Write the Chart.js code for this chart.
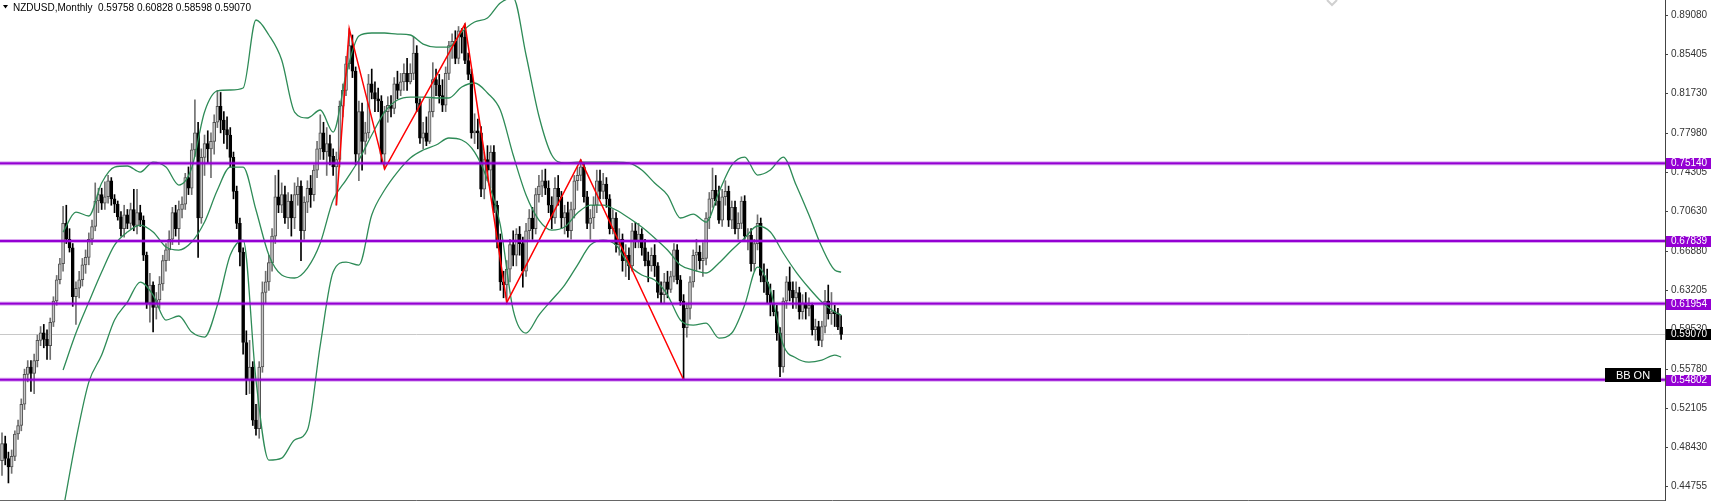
<!DOCTYPE html>
<html>
<head>
<meta charset="utf-8">
<title>NZDUSD Monthly</title>
<script src="https://cdn.jsdelivr.net/npm/chart.js@4.4.1/dist/chart.umd.min.js"></script>
<style>
  html, body { margin: 0; padding: 0; background: #fff; }
  canvas { display: block; }
</style>
</head>
<body>
<canvas id="chart" width="1716" height="502"></canvas>
<script>
// Monthly NZDUSD candles, one entry per month, oldest first
const symbol = 'NZDUSD,Monthly';

const openPrices = [
  .472,.488,.474,.466,.476,.497,.505,.525,.553,.560,
  .554,.566,.585,.592,.586,.580,.602,.622,.642,.657,
  .695,.680,.672,.626,.634,.642,.656,.663,.680,.692,
  .716,.722,.714,.720,.735,.718,.713,.701,.690,.703,
  .695,.708,.693,.705,.698,.665,.620,.637,.616,.623,
  .638,.660,.670,.680,.705,.690,.708,.713,.738,.728,
  .764,.780,.700,.757,.770,.765,.772,.790,.805,.792,
  .783,.778,.757,.725,.695,.668,.583,.548,.560,.510,
  .502,.560,.630,.640,.658,.683,.720,.712,.722,.700,
  .716,.700,.722,.730,.688,.715,.728,.722,.745,.765,
  .780,.762,.770,.758,.748,.755,.805,.820,.845,.862,
  .838,.760,.800,.772,.780,.826,.818,.812,.810,.760,
  .800,.806,.803,.826,.820,.828,.836,.828,.836,.855,
  .808,.775,.780,.772,.800,.830,.825,.815,.806,.836,
  .862,.866,.850,.876,.870,.848,.835,.780,.782,.780,
  .727,.755,.745,.762,.712,.678,.640,.637,.652,.675,
  .665,.685,.676,.650,.688,.700,.690,.722,.730,.735,
  .728,.712,.700,.728,.720,.700,.705,.688,.708,.735,
  .740,.748,.720,.695,.700,.712,.735,.725,.732,.718,
  .690,.700,.675,.680,.660,.665,.655,.688,.678,.685,
  .672,.660,.655,.665,.655,.630,.628,.640,.633,.645,
  .670,.642,.622,.597,.615,.640,.665,.668,.660,.662,
  .700,.718,.726,.716,.698,.720,.725,.698,.710,.690,
  .695,.716,.683,.684,.657,.676,.695,.646,.640,.628,
  .620,.612,.592,.560,.622,.640,.632,.625,.630,.612,
  .620,.615,.618,.595,.598,.585,.598,.622,.610,.612,
  .610,.59758
];
const highPrices = [
  .498,.495,.480,.482,.500,.510,.530,.558,.566,.566,
  .572,.590,.598,.600,.595,.606,.626,.646,.662,.711,
  .712,.690,.676,.640,.650,.662,.670,.686,.698,.733,
  .728,.728,.734,.740,.738,.722,.716,.706,.712,.708,
  .714,.727,.727,.712,.702,.668,.648,.640,.630,.645,
  .665,.676,.688,.710,.712,.716,.720,.742,.748,.770,
  .811,.790,.765,.778,.782,.780,.797,.820,.818,.800,
  .795,.785,.762,.730,.700,.672,.594,.585,.565,.525,
  .565,.640,.650,.665,.690,.740,.745,.733,.730,.724,
  .722,.733,.738,.735,.720,.735,.740,.750,.772,.797,
  .790,.785,.778,.765,.762,.810,.826,.852,.878,.872,
  .842,.810,.808,.790,.835,.840,.828,.822,.815,.805,
  .814,.815,.832,.838,.836,.845,.850,.845,.870,.862,
  .812,.790,.795,.812,.846,.840,.835,.830,.842,.866,
  .873,.876,.880,.878,.8825,.855,.840,.798,.793,.786,
  .762,.768,.768,.768,.716,.685,.650,.660,.680,.688,
  .690,.692,.682,.695,.708,.710,.728,.740,.745,.746,
  .735,.720,.738,.740,.725,.712,.715,.715,.740,.748,
  .755,.752,.725,.708,.720,.745,.745,.742,.738,.722,
  .708,.705,.690,.685,.675,.672,.695,.696,.695,.690,
  .680,.668,.672,.675,.658,.640,.648,.650,.650,.676,
  .675,.646,.628,.620,.645,.670,.680,.674,.677,.705,
  .724,.747,.740,.730,.727,.735,.730,.716,.716,.705,
  .720,.721,.690,.690,.680,.703,.700,.657,.652,.638,
  .632,.618,.597,.625,.645,.654,.640,.640,.635,.628,
  .630,.625,.620,.605,.603,.603,.632,.637,.630,.618,
  .615,.60828
];
const lowPrices = [
  .458,.468,.451,.460,.472,.492,.500,.520,.546,.537,
  .535,.560,.580,.578,.567,.567,.598,.618,.638,.650,
  .676,.668,.617,.600,.625,.636,.648,.656,.675,.688,
  .705,.708,.708,.714,.712,.705,.698,.683,.682,.690,
  .690,.688,.685,.692,.660,.615,.602,.593,.605,.615,
  .632,.650,.660,.675,.683,.675,.700,.708,.722,.722,
  .758,.663,.695,.740,.752,.738,.760,.785,.780,.770,
  .765,.748,.718,.690,.655,.572,.534,.535,.505,.496,
  .493,.555,.620,.632,.650,.676,.705,.705,.695,.690,
  .683,.690,.712,.660,.680,.705,.710,.716,.738,.755,
  .755,.740,.750,.740,.712,.748,.795,.815,.840,.832,
  .750,.735,.745,.760,.775,.812,.800,.800,.752,.746,
  .790,.795,.798,.812,.815,.820,.820,.826,.830,.800,
  .770,.765,.768,.770,.795,.815,.808,.800,.800,.830,
  .850,.845,.845,.855,.845,.830,.775,.770,.765,.720,
  .718,.735,.728,.705,.672,.632,.625,.620,.640,.655,
  .655,.665,.635,.645,.680,.680,.685,.715,.720,.722,
  .705,.690,.695,.712,.690,.685,.682,.680,.700,.726,
  .735,.715,.690,.680,.690,.705,.718,.718,.710,.685,
  .685,.668,.665,.650,.645,.642,.650,.672,.672,.665,
  .655,.640,.650,.645,.625,.620,.620,.625,.630,.640,
  .638,.618,.548,.588,.605,.635,.650,.652,.645,.656,
  .690,.710,.712,.695,.692,.712,.692,.690,.685,.680,
  .690,.680,.670,.650,.650,.670,.640,.630,.620,.608,
  .608,.585,.551,.555,.615,.622,.615,.615,.605,.605,
  .605,.608,.590,.585,.580,.579,.592,.605,.600,.598,
  .595,.58598
];
const closePrices = [
  .488,.474,.466,.476,.497,.505,.525,.553,.560,.554,
  .566,.585,.592,.586,.580,.602,.622,.642,.657,.695,
  .680,.672,.626,.634,.642,.656,.663,.680,.692,.716,
  .722,.714,.720,.735,.718,.713,.701,.690,.703,.695,
  .708,.693,.705,.698,.665,.620,.637,.616,.623,.638,
  .660,.670,.680,.705,.690,.708,.713,.738,.728,.764,
  .780,.700,.757,.770,.765,.772,.790,.805,.792,.783,
  .778,.757,.725,.695,.668,.583,.548,.560,.510,.502,
  .560,.630,.640,.658,.683,.720,.712,.722,.700,.716,
  .700,.722,.730,.688,.715,.728,.722,.745,.765,.780,
  .762,.770,.758,.748,.755,.805,.820,.845,.862,.838,
  .760,.800,.772,.780,.826,.818,.812,.810,.760,.800,
  .806,.803,.826,.820,.828,.836,.828,.836,.855,.808,
  .775,.780,.772,.800,.830,.825,.815,.806,.836,.862,
  .866,.850,.876,.870,.848,.835,.780,.782,.780,.727,
  .755,.745,.762,.712,.678,.640,.637,.652,.675,.665,
  .685,.676,.650,.688,.700,.690,.722,.730,.735,.728,
  .712,.700,.728,.720,.700,.705,.688,.708,.735,.740,
  .748,.720,.695,.700,.712,.735,.725,.732,.718,.690,
  .700,.675,.680,.660,.665,.655,.688,.678,.685,.672,
  .660,.655,.665,.655,.630,.628,.640,.633,.645,.670,
  .642,.622,.597,.615,.640,.665,.668,.660,.662,.700,
  .718,.726,.716,.698,.720,.725,.698,.710,.690,.695,
  .716,.683,.684,.657,.676,.695,.646,.640,.628,.620,
  .612,.592,.560,.622,.640,.632,.625,.630,.612,.620,
  .615,.618,.595,.598,.585,.598,.622,.610,.612,.610,
  .5976,.59070
];

// Bollinger bands (20, 2) at these bar numbers
const bbAt = [
  19, 23, 27, 31, 35, 39, 43, 47, 51, 55, 59, 63, 67, 71, 75, 79, 83, 87, 91, 95,
  99, 103, 107, 111, 115, 119, 123, 127, 131, 135, 139, 143, 147, 151, 155, 159,
  163, 167, 171, 175, 179, 183, 187, 191, 195, 199, 203, 207, 211, 215, 219, 223,
  227, 231, 235, 239, 243, 247, 251, 255, 259, 261
];
const bbUpper = [
  .6868,.7056,.7019,.7329,.7479,.7489,.7432,.7526,.7479,.7310,.7470,.7996,.8194,.8203,.8222,.8861,.8720,.8485,.7996,.7940,
  .8015,.7808,.8344,.8711,.8739,.8739,.8729,.8720,.8635,.8607,.8607,.8748,.8842,.8880,.9021,.9068,
  .8532,.7959,.7592,.7517,.7526,.7526,.7526,.7526,.7517,.7451,.7329,.7216,.7000,.7037,.6962,.7244,
  .7498,.7573,.7404,.7451,.7573,.7310,.7028,.6727,.6511,.6492
];
const bbMiddle = [
  .5571,.5919,.6210,.6492,.6746,.6868,.6934,.6868,.6727,.6699,.6774,.6962,.7263,.7479,.7479,.7075,.6652,.6464,.6436,.6530,
  .6765,.7169,.7357,.7545,.7780,.7996,.8109,.8137,.8137,.8128,.8128,.8231,.8269,.8175,.8015,.7592,
  .7216,.6981,.6887,.6915,.7047,.7122,.7122,.7075,.7000,.6915,.6812,.6699,.6558,.6511,.6483,.6577,
  .6699,.6812,.6925,.6868,.6671,.6492,.6342,.6210,.6116,.6088
];
const bbLower = [
  .4255,.4913,.5458,.5712,.6041,.6210,.6398,.6276,.6041,.6079,.5928,.5881,.6182,.6652,.6793,.5477,.4725,.4744,.4913,.5007,
  .5806,.6492,.6586,.6558,.7028,.7263,.7432,.7564,.7639,.7686,.7752,.7733,.7620,.7357,.6934,.6135,
  .5919,.6088,.6229,.6370,.6558,.6746,.6793,.6746,.6558,.6464,.6417,.6276,.6041,.5994,.6013,.5872,
  .5919,.6182,.6539,.6323,.5806,.5684,.5646,.5665,.5712,.5693
];

// Zigzag turning points: bar number and price
const zigzagAt = [104, 108, 119, 144, 157, 180, 212];
const zigzagPrice = [0.7120, 0.8780, 0.7460, 0.8823, 0.6204, 0.7545, 0.5480];

// Horizontal levels, last price and the axis ticks
const levels = [0.75140, 0.67839, 0.61954, 0.54802];
const lastPrice = 0.59070;
const tickValues = [0.89080, 0.85405, 0.81730, 0.77980, 0.74305, 0.70630, 0.66880,
                    0.63205, 0.59530, 0.55780, 0.52105, 0.48430, 0.44755];

const FONT = '"Liberation Sans", Arial, sans-serif';
const isUp = closePrices.map((c, i) => c >= openPrices[i]);

const band = (values) => ({
  type: 'line',
  data: values.map((v, k) => ({ x: bbAt[k], y: v })),
  borderColor: '#2e8b57',
  borderWidth: 1.3,
  pointRadius: 0,
  cubicInterpolationMode: 'monotone',
  order: 1,
});

// Levels, price tags and the little labels MetaTrader puts on the chart
const decorations = {
  id: 'decorations',
  beforeDatasetsDraw(chart) {
    const { ctx, chartArea: a, scales: { y } } = chart;
    const py = Math.round(y.getPixelForValue(lastPrice)) + 0.5;
    ctx.save();
    ctx.strokeStyle = '#c8c8c8';
    ctx.lineWidth = 1;
    ctx.beginPath();
    ctx.moveTo(a.left, py);
    ctx.lineTo(a.right, py);
    ctx.stroke();
    ctx.restore();
  },
  afterDatasetsDraw(chart) {
    const { ctx, chartArea: a, scales: { y } } = chart;
    ctx.save();
    levels.forEach(v => {
      const py = y.getPixelForValue(v);
      ctx.fillStyle = 'rgba(148, 0, 211, 0.35)';
      ctx.fillRect(a.left, py - 2, a.right - a.left, 4);
      ctx.fillStyle = '#9400d3';
      ctx.fillRect(a.left, py - 1, a.right - a.left, 2);
    });
    ctx.restore();
  },
  afterDraw(chart) {
    const { ctx, chartArea: a, scales: { y } } = chart;
    ctx.save();

    // bottom frame line
    ctx.strokeStyle = '#666';
    ctx.lineWidth = 1;
    ctx.beginPath();
    ctx.moveTo(0, a.bottom + 0.5);
    ctx.lineTo(a.right, a.bottom + 0.5);
    ctx.stroke();

    // price tags on the axis
    const tag = (v, bg) => {
      const py = y.getPixelForValue(v);
      ctx.fillStyle = bg;
      ctx.fillRect(a.right + 1, Math.round(py) - 5, 45, 11);
      ctx.fillStyle = '#fff';
      ctx.font = '10px ' + FONT;
      ctx.textBaseline = 'middle';
      ctx.textAlign = 'left';
      ctx.fillText(v.toFixed(5), a.right + 6, Math.round(py) + 0.5);
    };
    levels.forEach(v => tag(v, '#9400d3'));
    tag(lastPrice, '#000');

    // "BB ON" button next to the lowest level
    const by = Math.round(y.getPixelForValue(levels[3])) - 12;
    ctx.fillStyle = '#000';
    ctx.fillRect(a.right - 60, by, 56, 14);
    ctx.fillStyle = '#fff';
    ctx.font = '11px ' + FONT;
    ctx.textAlign = 'center';
    ctx.textBaseline = 'middle';
    ctx.fillText('BB ON', a.right - 32, by + 7.5);

    // title with the last bar's OHLC
    const n = closePrices.length - 1;
    const title = symbol + '  ' + [openPrices[n], highPrices[n], lowPrices[n], closePrices[n]]
      .map(v => v.toFixed(5)).join(' ');
    ctx.fillStyle = '#000';
    ctx.beginPath();
    ctx.moveTo(3, 5);
    ctx.lineTo(8, 5);
    ctx.lineTo(5.5, 8.5);
    ctx.closePath();
    ctx.fill();
    ctx.font = '10px ' + FONT;
    ctx.textAlign = 'left';
    ctx.textBaseline = 'alphabetic';
    ctx.fillText(title, 13, 11);

    // small scroll chevron at the top
    ctx.strokeStyle = '#d0d0d0';
    ctx.lineWidth = 2;
    ctx.beginPath();
    ctx.moveTo(1327, 0);
    ctx.lineTo(1332, 5);
    ctx.lineTo(1337, 0);
    ctx.stroke();

    ctx.restore();
  }
};

new Chart(document.getElementById('chart'), {
  type: 'bar',
  data: {
    datasets: [
      {
        // wicks
        data: lowPrices.map((l, i) => ({ x: i, y: [l, highPrices[i]] })),
        backgroundColor: isUp.map(u => u ? '#707070' : '#000'),
        barThickness: 1,
        grouped: false,
        order: 3,
      },
      {
        // bodies
        data: openPrices.map((o, i) => ({ x: i, y: [o, closePrices[i]] })),
        backgroundColor: isUp.map(u => u ? '#c4c4c4' : '#000'),
        borderColor: isUp.map(u => u ? '#505050' : '#000'),
        borderWidth: 1,
        borderSkipped: false,
        barThickness: 3,
        minBarLength: 1,
        grouped: false,
        order: 2,
      },
      band(bbUpper),
      band(bbMiddle),
      band(bbLower),
      {
        type: 'line',
        data: zigzagAt.map((x, k) => ({ x, y: zigzagPrice[k] })),
        borderColor: '#ff0000',
        borderWidth: 1.5,
        pointRadius: 0,
        tension: 0,
        order: 0,
      },
    ],
  },
  options: {
    responsive: false,
    animation: false,
    devicePixelRatio: 1,
    layout: { padding: { left: 0, right: 0, top: 0, bottom: 2 } },
    plugins: { legend: { display: false }, tooltip: { enabled: false } },
    scales: {
      x: { type: 'linear', display: false, min: -0.622, max: 517.26, offset: false },
      y: {
        position: 'right',
        min: 0.43497,
        max: 0.90490,
        afterBuildTicks: scale => { scale.ticks = tickValues.map(v => ({ value: v })); },
        afterFit: scale => { scale.width = 51; scale.paddingTop = 0; scale.paddingBottom = 0; },
        ticks: {
          callback: v => v.toFixed(5),
          font: { family: FONT, size: 10 },
          color: '#333',
          padding: 3,
          autoSkip: false,
        },
        grid: { drawOnChartArea: false, tickLength: 3, color: '#444' },
        border: { color: '#444' },
      },
    },
  },
  plugins: [decorations],
});
</script>
</body>
</html>
